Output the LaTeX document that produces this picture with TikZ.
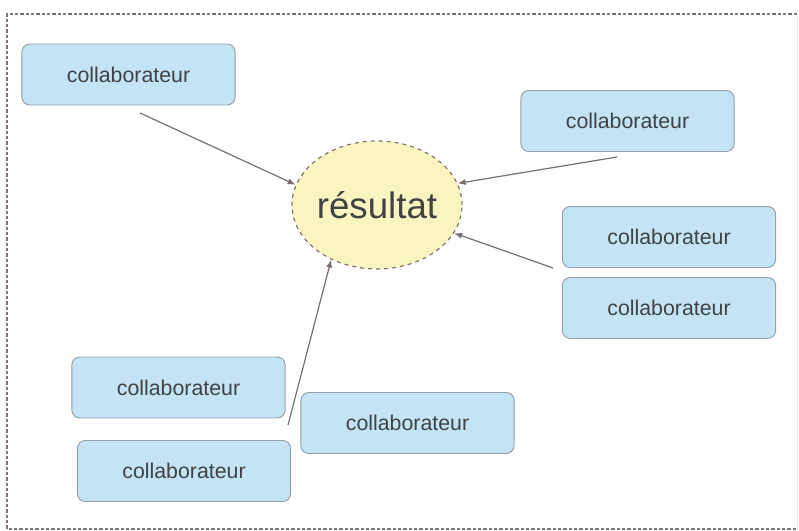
\documentclass[tikz,border=0pt]{standalone}
\usepackage{fontspec}
\setmainfont{Liberation Sans}
\usepackage{tikz}
\usepackage{xcolor}
\usetikzlibrary{arrows.meta}
\usetikzlibrary{shapes,backgrounds}

\definecolor{boxblue}{RGB}{196,228,245}
\definecolor{boxline}{RGB}{150,158,165}
\definecolor{resyellow}{RGB}{250,245,192}
\definecolor{resline}{RGB}{128,118,112}
\definecolor{arrowgrey}{RGB}{120,110,110}
\definecolor{textgrey}{RGB}{64,66,68}

\begin{document}
\begin{tikzpicture}[x=0.75pt,y=-0.75pt,>={Latex[length=6pt,width=4.5pt]}]
        \tikzstyle{collab}=[draw=boxline,fill=boxblue,rounded corners=6pt,minimum width=160pt,minimum height=45.75pt,text=textgrey,font=\fontsize{16}{19}\selectfont,line width=0.7pt]
        \tikzstyle{result}=[draw=resline,fill=resyellow,ellipse,dashed,inner sep=0pt,minimum width=124.5pt,minimum height=96pt,text=textgrey,font=\fontsize{27.5}{32}\selectfont,line width=0.9pt]
        \tikzstyle{link}=[draw=arrowgrey,line width=0.9pt]

        \useasboundingbox (0,0) rectangle (799,531);
        \draw [draw=resline, line width=1pt, dash pattern=on 2.5pt off 1.5pt] (797,14) -- (7,14) -- (7,529) -- (797,529);
        \draw [draw=resline!20, line width=0.6pt] (797,14) -- (797,529);

        \draw node at (377,205) [result] (res) {résultat};
        \draw node at (128.5,74.5) [collab] (c1) {collaborateur};
        \draw node at (627.5,121) [collab] (c2) {collaborateur};
        \draw node at (669,237) [collab] (c3) {collaborateur};
        \draw node at (669,308) [collab] (c4) {collaborateur};
        \draw node at (178.5,387.5) [collab] (c5) {collaborateur};
        \draw node at (184,471) [collab] (c6) {collaborateur};
        \draw node at (407.5,423) [collab] (c7) {collaborateur};

        \coordinate (s1) at (140,113);
        \coordinate (s2) at (617,157);
        \coordinate (s3) at (553,268);
        \coordinate (s4) at (288,425);

        \draw [link,->]  (s1) to (res.166);
        \draw [link,->]  (s2) to (res.15);
        \draw [link,->]  (s3) to (res.-20);
        \draw [link,->]  (s4) to (res.-130);
    \end{tikzpicture}
\end{document}
